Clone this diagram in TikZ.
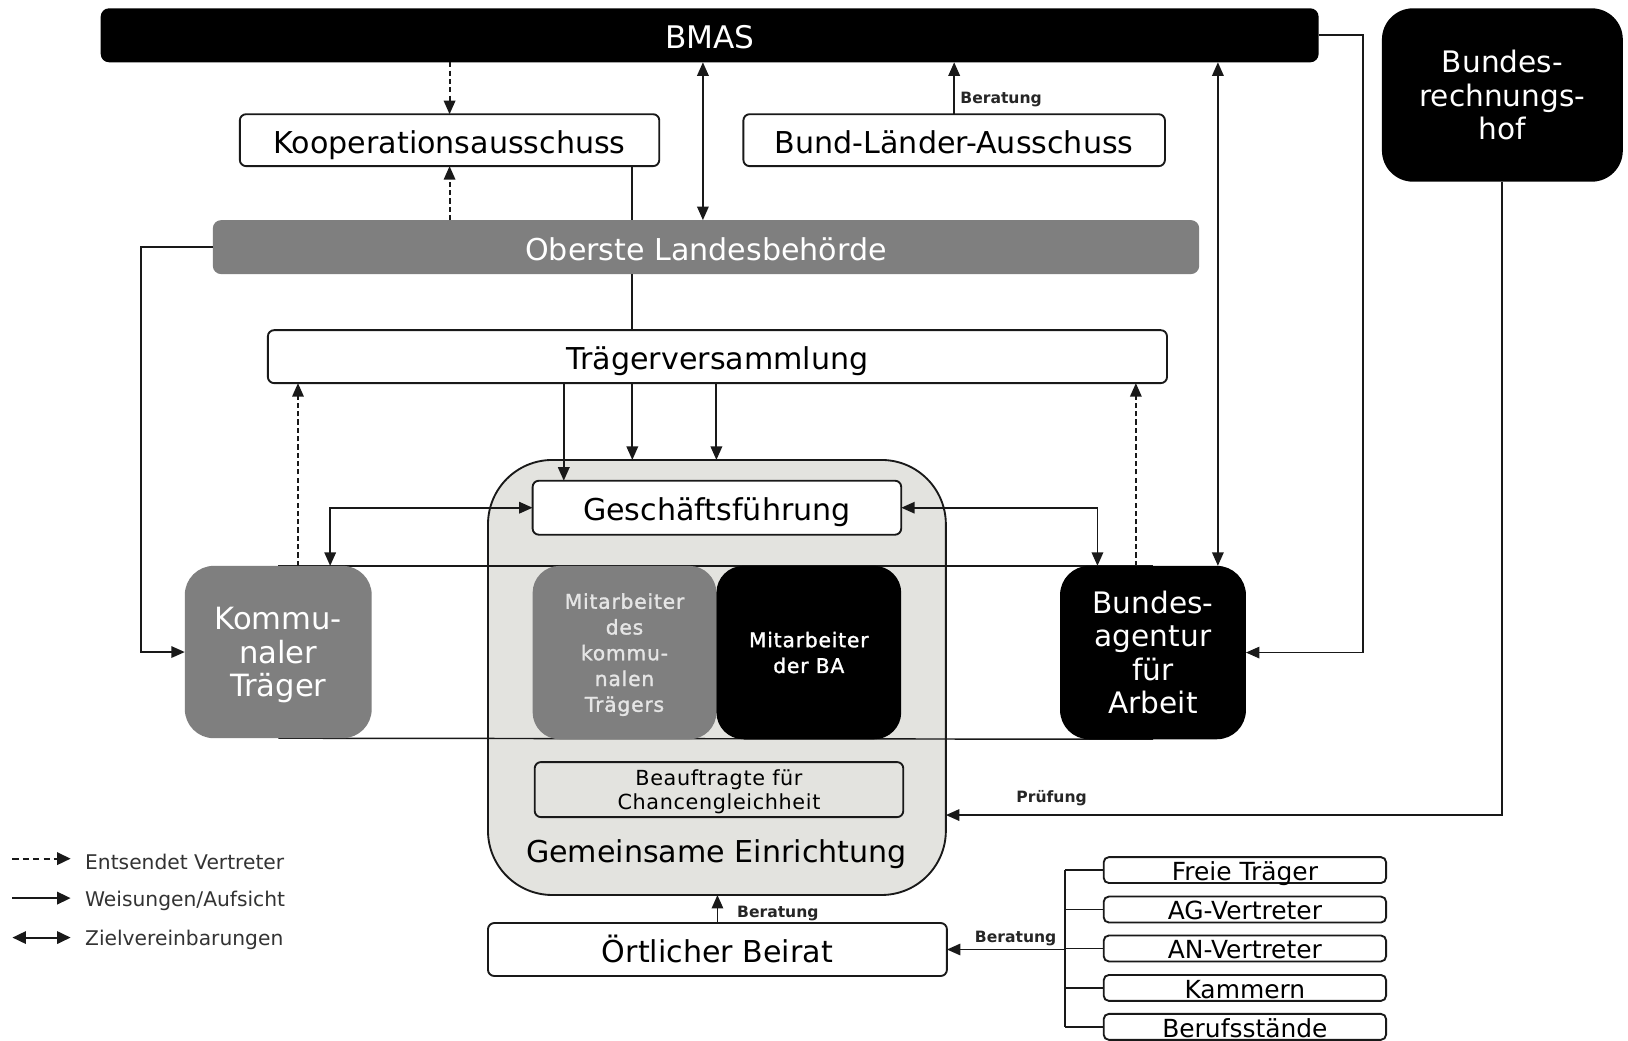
\documentclass[tikz,border=0pt]{standalone}
\usepackage{fontspec}
\setmainfont{DejaVu Sans}
\usetikzlibrary{arrows.meta,calc}
\pgfdeclarelayer{back}
\pgfdeclarelayer{mid}
\pgfsetlayers{back,mid,main}
\definecolor{midgray}{HTML}{7F7F7F}
\definecolor{lightfill}{HTML}{E3E3DF}
\definecolor{legtext}{HTML}{333333}
\begin{document}
\begin{tikzpicture}[x=1pt,y=-1pt,
  every node/.style={inner sep=0pt, outer sep=0pt, align=center},
  wbox/.style={draw=black!90, line width=1.8pt, fill=white, rounded corners=6pt},
  bigtxt/.style={font=\fontsize{29}{32}\selectfont, text height=25pt, text depth=0pt},
  conn/.style={line width=1.8pt, draw=black!90},
  arr/.style={conn, -{Triangle[length=13pt,width=11pt]}},
  dbl/.style={conn, {Triangle[length=13pt,width=11pt]}-{Triangle[length=13pt,width=11pt]}},
  darr/.style={arr, dash pattern=on 5pt off 3pt},
  smalllab/.style={font=\fontsize{15}{18}\bfseries\selectfont, text=black!85},
  legtxt/.style={anchor=west, text=legtext, font=\fontsize{19.5}{22}\selectfont},
  listbox/.style={wbox, rounded corners=5pt, minimum width=272pt, minimum height=25pt, font=\fontsize{24}{26}\selectfont, text height=20pt, text depth=0pt},
  mitxt/.style={font=\fontsize{19.5}{24.8}\selectfont\addfontfeatures{LetterSpace=4,FakeBold=1.5}},
]
\clip (0,0) rectangle (1568,1002);
\begin{pgfonlayer}{back}
\fill[white] (0,0) rectangle (1568,1002);
\end{pgfonlayer}

% helper x/y coordinates
\coordinate (x136) at (136,0);
\coordinate (x287) at (287,0);
\coordinate (x318) at (318,0);
\coordinate (x543) at (543,0);
\coordinate (x609) at (609,0);
\coordinate (x677) at (677,0);
\coordinate (x690) at (690,0);
\coordinate (x1057) at (1057,0);
\coordinate (x1094) at (1094,0);
\coordinate (x1173) at (1173,0);
\coordinate (x1313) at (1313,0);
\coordinate (y785) at (0,785);
\coordinate (bx) at (1026,0);

% top level
\node[fill=black, rounded corners=8pt, minimum width=1173pt, minimum height=52pt, text=white, bigtxt, font=\fontsize{30}{32}\selectfont] (bmas) at (683.5,34) {BMAS};
\node[fill=black, rounded corners=30pt, minimum width=232pt, minimum height=167pt, text=white, font=\fontsize{28.5}{32.5}\selectfont] (brh) at (1447,91.5) {Bundes-\\rechnungs-\\hof};
\node[wbox, minimum width=404pt, minimum height=50pt, bigtxt] (koop) at (433,135) {Kooperationsausschuss};
\node[wbox, minimum width=406pt, minimum height=50pt, bigtxt] (bla) at (919,135) {Bund-Länder-Ausschuss};
\node[fill=midgray, rounded corners=8pt, minimum width=950pt, minimum height=52pt, text=white, bigtxt] (olb) at (680,238) {Oberste Landesbehörde};
\node[wbox, minimum width=866pt, minimum height=51pt, bigtxt] (tv) at (691,343.5) {Trägerversammlung};

% gemeinsame Einrichtung
\begin{pgfonlayer}{back}
\node[draw=black!90, line width=1.8pt, fill=lightfill, rounded corners=62pt, minimum width=441pt, minimum height=419pt] (ge) at (690.5,652.5) {};
\end{pgfonlayer}
\node[bigtxt] (gel) at (690,818) {Gemeinsame Einrichtung};
\node[wbox, minimum width=355pt, minimum height=52pt, bigtxt] (gf) at (690.5,489) {Geschäftsführung};
\node[fill=midgray, rounded corners=28pt, minimum width=180pt, minimum height=166pt, text=white, font=\fontsize{29.5}{32}\selectfont, text depth=0pt] (kt) at (268,628) {Kommu-\\naler\\Träger};
\node[fill=midgray, rounded corners=26pt, minimum width=177pt, minimum height=167pt, text=white!90!black, mitxt, text depth=0pt] (mk) at (601.5,628.5) {Mitarbeiter\\des\\kommu-\\nalen\\Trägers};
\node[fill=black, rounded corners=26pt, minimum width=178pt, minimum height=167pt, text=white, mitxt] (mba) at (779,628.5) {Mitarbeiter\\der BA};
\node[fill=black, rounded corners=28pt, minimum width=179pt, minimum height=167pt, text=white, font=\fontsize{28.5}{32}\selectfont] (ba) at (1110.5,628.5) {Bundes-\\agentur\\für\\Arbeit};
\node[draw=black!90, line width=1.8pt, fill=lightfill, rounded corners=6pt, minimum width=355pt, minimum height=53pt, font=\fontsize{20}{23}\selectfont\addfontfeatures{LetterSpace=3}, text depth=0pt] (bfc) at (692.5,760.5) {Beauftragte für\\Chancengleichheit};
\node[wbox, minimum width=442pt, minimum height=51pt, bigtxt] (ob) at (691,914.5) {Örtlicher Beirat};

% list
\node[listbox] (l1) at (1199,838) {Freie Träger};
\node[listbox] (l2) at (1199,876) {AG-Vertreter};
\node[listbox] (l3) at (1199,913.5) {AN-Vertreter};
\node[listbox] (l4) at (1199,951.5) {Kammern};
\node[listbox] (l5) at (1199,989) {Berufsstände};

% connectors behind the inner boxes
\begin{pgfonlayer}{mid}
\draw[conn, line width=1.4pt] (kt.north) -- (ba.north);
\draw[conn, line width=1.4pt] (kt.south) -- (ba.south);
\end{pgfonlayer}

\draw[darr] (koop.north |- bmas.south) -- (koop.north);
\draw[darr] (koop.south |- olb.north) -- (koop.south);
\draw[dbl] (bmas.south -| x677) -- (olb.north -| x677);
\draw[arr] (bla.north) -- (bmas.south -| bla.north);
\node[smalllab, anchor=west] (lb1) at (925,96) {Beratung};
\draw[conn] (koop.south -| x609) -- (olb.north -| x609);
\draw[conn] (olb.south -| x609) -- (tv.north -| x609);
\draw[arr] (olb.west) -- (x136 |- olb.west) -- (x136 |- kt.west) -- (kt.west);
\draw[arr] (bmas.east) -- (x1313 |- bmas.east) -- (x1313 |- ba.east) -- (ba.east);
\draw[dbl] (bmas.south -| x1173) -- (ba.north -| x1173);
\draw[arr] (brh.south) -- (brh.south |- y785) -- (ge.east |- y785);
\node[smalllab, anchor=west] (lb2) at (979,769) {Prüfung};

\draw[arr] (tv.south -| x543) -- (gf.north -| x543);
\draw[arr] (tv.south -| x609) -- (ge.north -| x609);
\draw[arr] (tv.south -| x690) -- (ge.north -| x690);
\draw[darr] (kt.north -| x287) -- (tv.south -| x287);
\draw[darr] (ba.north -| x1094) -- (tv.south -| x1094);
\draw[dbl] (gf.west) -- (x318 |- gf.west) -- (kt.north -| x318);
\draw[dbl] (gf.east) -- (x1057 |- gf.east) -- (ba.north -| x1057);

\draw[arr] (ob.north) -- (ge.south -| ob.north);
\node[smalllab, anchor=west] (lb3) at (710,880) {Beratung};

\draw[conn] (l1.west -| bx) -- (l5.west -| bx);
\foreach \i in {1,...,5} { \draw[conn] (l\i.west -| bx) -- (l\i.west); }
\draw[arr] (bx |- ob.east) -- (ob.east);
\node[smalllab, anchor=west] (lb4) at (939,904) {Beratung};

% legend
\coordinate (la1) at (12,827); \coordinate (lb1c) at (68,827);
\coordinate (la2) at (12,865); \coordinate (lb2c) at (68,865);
\coordinate (la3) at (12,903); \coordinate (lb3c) at (68,903);
\draw[conn, dash pattern=on 6pt off 4pt, -{Triangle[length=13pt,width=12pt]}] (la1) -- (lb1c);
\draw[conn, -{Triangle[length=13pt,width=12pt]}] (la2) -- (lb2c);
\draw[conn, {Triangle[length=13pt,width=12pt]}-{Triangle[length=13pt,width=12pt]}] (la3) -- (lb3c);
\node[legtxt] (t1) at (82,830) {Entsendet Vertreter};
\node[legtxt] (t2) at (82,868) {Weisungen/Aufsicht};
\node[legtxt] (t3) at (82,905) {Zielvereinbarungen};
\end{tikzpicture}
\end{document}
